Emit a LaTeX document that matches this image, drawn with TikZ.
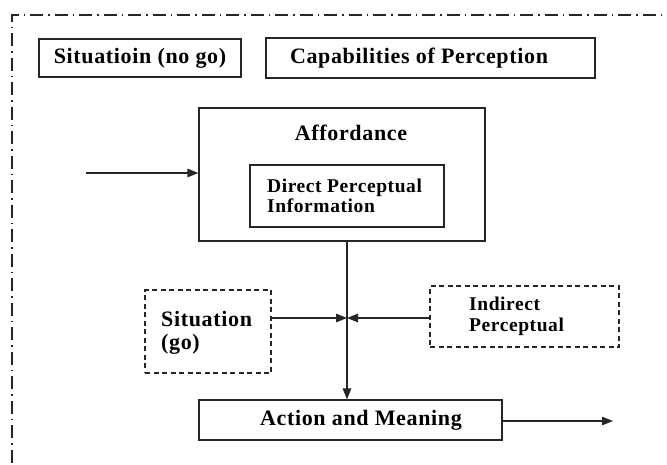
\documentclass[tikz,border=0pt]{standalone}
\usepackage{fontspec}
\setmainfont{Liberation Serif}[LetterSpace=3]
\usetikzlibrary{arrows.meta}
\begin{document}
\begin{tikzpicture}[x=1pt,y=-1pt,
  box/.style={draw=black!85,line width=1.2pt,inner sep=0pt},
  dbox/.style={box,line width=1.1pt,dash pattern=on 5pt off 3.5pt},
  lbl/.style={font=\bfseries\fontsize{22}{23}\selectfont,inner sep=0pt},
  conn/.style={draw=black!85,line width=1.2pt},
  arr/.style={conn,-{Triangle[length=11pt,width=8.5pt]}},
  frame/.style={draw=black!85,line width=1.3pt,dash pattern=on 13pt off 5pt on 1.5pt off 5pt}]
\useasboundingbox (0,0) rectangle (667,464);
% outer dash-dot frame
\draw[frame] (680,15) -- (12,15) -- (12,470);
% top boxes
\node[box,minimum width=202pt,minimum height=38pt] (sit) at (140,58) {};
\node[lbl] (sitT) at (140,58) {Situatioin (no go)};
\node[box,minimum width=329pt,minimum height=40pt] (cap) at (430.5,58) {};
\node[lbl] (capT) at (419,58) {Capabilities of Perception};
% affordance
\node[box,minimum width=286pt,minimum height=133pt] (aff) at (342,174.5) {};
\node[lbl] (affT) at (351,133) {Affordance};
\node[box,minimum width=194pt,minimum height=62pt] (dir) at (347,196) {};
\node[lbl,anchor=west,align=left,font=\bfseries\fontsize{19.5}{20}\selectfont] (dirT) at (267,196) {Direct Perceptual\\Information};
% side inputs
\node[dbox,minimum width=126pt,minimum height=83pt] (go) at (208,331.5) {};
\node[lbl,anchor=west,align=left,font=\bfseries\fontsize{22}{23}\selectfont] (goT) at (161,333) {Situation\\(go)};
\node[dbox,minimum width=189pt,minimum height=61pt] (ind) at (524.5,316.5) {};
\node[lbl,anchor=west,align=left,font=\bfseries\fontsize{19.5}{21}\selectfont] (indT) at (469,316) {Indirect\\Perceptual};
% action
\node[box,minimum width=303pt,minimum height=40pt] (act) at (350.5,420) {};
\node[lbl] (actT) at (361,420) {Action and Meaning};
% connectors
\coordinate (in) at (86,173);
\coordinate (j) at (347,318);
\coordinate (out) at (613,421);
\draw[arr] (in) -- (in -| aff.west);
\draw[arr] (j |- aff.south) -- (j |- act.north);
\draw[arr] (go.east |- j) -- (j);
\draw[arr] (ind.west |- j) -- (j);
\draw[arr] (act.east |- out) -- (out);
\end{tikzpicture}
\end{document}
